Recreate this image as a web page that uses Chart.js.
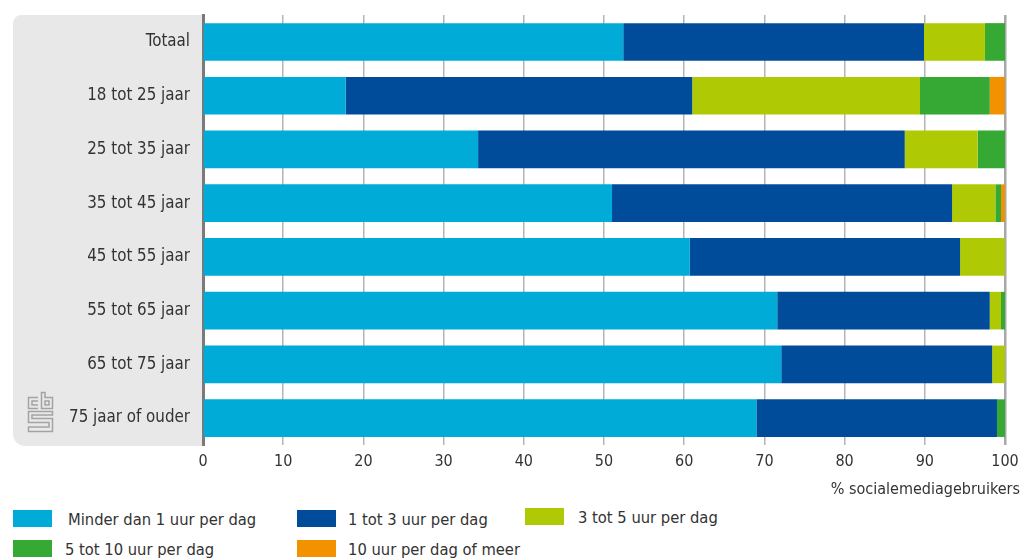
<!DOCTYPE html>
<html>
<head>
<meta charset="utf-8">
<script src="https://cdn.jsdelivr.net/npm/chart.js@4/dist/chart.umd.min.js"></script>
<style>
  html, body { margin: 0; padding: 0; background: #fff; }
  #wrap { position: relative; width: 1030px; height: 560px; font-family: "DejaVu Sans Condensed", "DejaVu Sans", sans-serif; color: #333; }
  #c { position: absolute; left: 0; top: 0; }
  .axt { position: absolute; right: 10px; top: 479px; font-size: 16px; line-height: 20px; }
  .lg { position: absolute; font-size: 16.4px; line-height: 18px; white-space: nowrap; }
  .lg i { position: absolute; top: 0; width: 39px; height: 17px; }
</style>
</head>
<body>
<div id="wrap">
  <canvas id="c" width="1030" height="500"></canvas>
  <div class="axt" id="axt"></div>
  <div id="legend"></div>
</div>
<script>
const categories = ["Totaal", "18 tot 25 jaar", "25 tot 35 jaar", "35 tot 45 jaar", "45 tot 55 jaar", "55 tot 65 jaar", "65 tot 75 jaar", "75 jaar of ouder"];
const seriesNames = ["Minder dan 1 uur per dag", "1 tot 3 uur per dag", "3 tot 5 uur per dag", "5 tot 10 uur per dag", "10 uur per dag of meer"];
const minderDan1 = [52.4, 17.8, 34.3, 51.0, 60.7, 71.6, 72.1, 69.0];
const tot3 = [37.5, 43.2, 53.2, 42.4, 33.7, 26.5, 26.3, 30.0];
const tot5 = [7.6, 28.4, 9.1, 5.4, 5.6, 1.4, 1.6, 0];
const tot10 = [2.5, 8.7, 3.4, 0.7, 0, 0.5, 0, 1.0];
const meer10 = [0, 1.9, 0, 0.5, 0, 0, 0, 0];
const xTicks = [0, 10, 20, 30, 40, 50, 60, 70, 80, 90, 100];
const axisTitle = "% socialemediagebruikers";
const colors = ["#00abd8", "#004c9a", "#afca04", "#36a834", "#f39200"];
const seriesValues = [minderDan1, tot3, tot5, tot10, meer10];

const FONT = '"DejaVu Sans Condensed", "DejaVu Sans", sans-serif';

document.getElementById('axt').textContent = axisTitle;

// HTML legend
const legendPos = [[13, 510, 68], [297, 510, 348], [525, 508, 578], [13, 540, 65], [297, 540, 348]];
const lg = document.getElementById('legend');
seriesNames.forEach((n, i) => {
  const [bx, by, tx] = legendPos[i];
  const d = document.createElement('div');
  d.className = 'lg';
  d.style.left = bx + 'px';
  d.style.top = by + 'px';
  d.innerHTML = '<i style="left:0;background:' + colors[i] + '"></i><span style="position:absolute;left:' + (tx - bx) + 'px;top:1px">' + n + '</span>';
  lg.appendChild(d);
});

const bgPlugin = {
  id: 'bgPanel',
  beforeDraw(chart) {
    const { ctx, chartArea } = chart;
    ctx.save();
    ctx.fillStyle = '#e8e8e8';
    const x0 = 13, x1 = chartArea.left - 1, y0 = chartArea.top, y1 = chartArea.bottom + 1;
    ctx.beginPath();
    ctx.roundRect(x0, y0, x1 - x0, y1 - y0, [8, 0, 0, 12]);
    ctx.fill();
    // cbs logo
    ctx.strokeStyle = '#a3a3a3';
    ctx.lineWidth = 1.5;
    ctx.beginPath();
    // c
    ctx.moveTo(38, 397.5); ctx.lineTo(28.5, 397.5); ctx.lineTo(28.5, 408.5); ctx.lineTo(38, 408.5);
    ctx.moveTo(38, 401); ctx.lineTo(32, 401); ctx.lineTo(32, 405); ctx.lineTo(38, 405);
    // b
    ctx.moveTo(41.5, 392.5); ctx.lineTo(41.5, 408.5); ctx.lineTo(52.5, 408.5); ctx.lineTo(52.5, 397.5); ctx.lineTo(45, 397.5); ctx.lineTo(45, 392.5); ctx.closePath();
    ctx.rect(45, 401, 4, 4);
    // S
    ctx.moveTo(52.5, 411.5); ctx.lineTo(28.5, 411.5); ctx.lineTo(28.5, 422.5); ctx.lineTo(49, 422.5); ctx.lineTo(49, 427); ctx.lineTo(28.5, 427); ctx.lineTo(28.5, 431.5); ctx.lineTo(52.5, 431.5); ctx.lineTo(52.5, 418.5); ctx.lineTo(32, 418.5); ctx.lineTo(32, 415); ctx.lineTo(52.5, 415); ctx.closePath();
    ctx.stroke();
    ctx.restore();
  }
};

new Chart(document.getElementById('c'), {
  type: 'bar',
  data: {
    labels: categories,
    datasets: seriesNames.map((n, i) => ({
      label: n,
      data: seriesValues[i],
      backgroundColor: colors[i],
      borderWidth: 0,
      barPercentage: 0.7,
      categoryPercentage: 1.0
    }))
  },
  options: {
    indexAxis: 'y',
    responsive: false,
    animation: false,
    devicePixelRatio: 1,
    layout: { padding: { top: 4.5, right: 25, left: 0, bottom: 0 } },
    plugins: { legend: { display: false }, tooltip: { enabled: false } },
    scales: {
      x: {
        stacked: true,
        min: 0, max: 100,
        afterBuildTicks: s => { s.ticks = xTicks.map(v => ({ value: v })); },
        afterFit: s => { s.height = 55; },
        ticks: { color: '#333', font: { family: FONT, size: 16 }, padding: 7, maxRotation: 0 },
        grid: {
          drawTicks: false,
          color: ctx => ctx.tick && ctx.tick.value === 0 ? 'rgba(0,0,0,0)' : (ctx.tick && ctx.tick.value === 100 ? '#a8a8a8' : '#b4b4b4'),
          lineWidth: ctx => ctx.tick && ctx.tick.value === 100 ? 2.5 : 1.5
        },
        border: { display: false }
      },
      y: {
        stacked: true,
        afterFit: s => { s.width = 203; },
        ticks: { color: '#333', font: { family: FONT, size: 16.8 }, padding: 5 },
        grid: { display: false },
        border: { display: true, color: '#7a7a7a', width: 3 }
      }
    }
  },
  plugins: [bgPlugin]
});
</script>
</body>
</html>
